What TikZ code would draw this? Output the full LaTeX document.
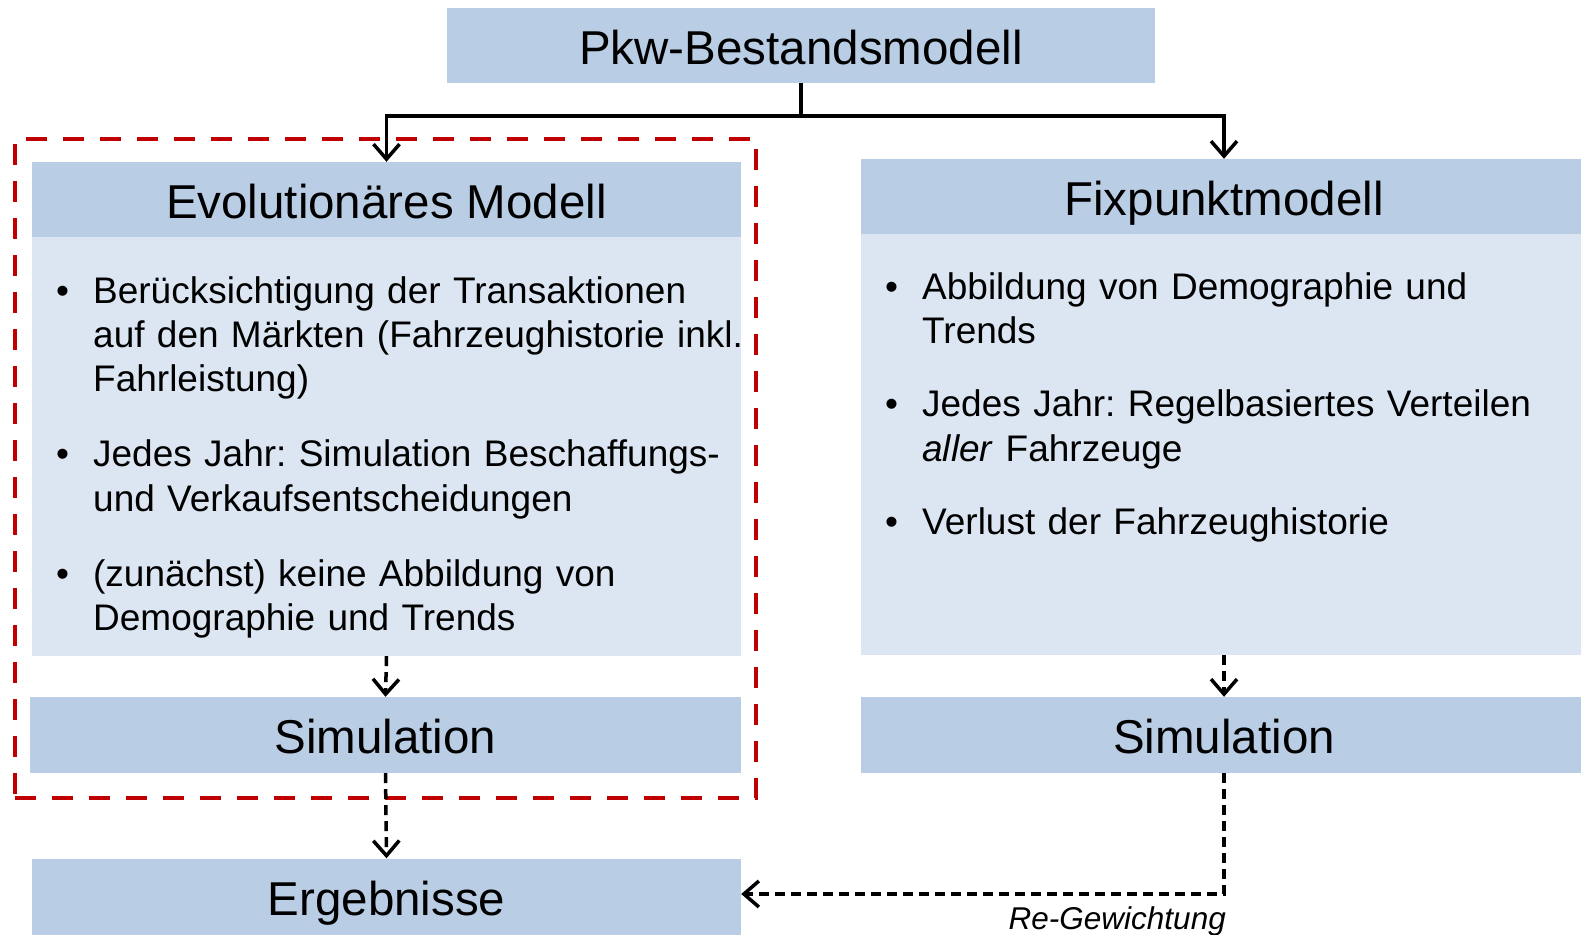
\documentclass[tikz,border=0pt]{standalone}
\usepackage{fontspec}
\setmainfont{Liberation Sans}
\usetikzlibrary{arrows.meta}
\definecolor{hdr}{RGB}{185,205,229}
\definecolor{bdy}{RGB}{220,230,242}
\definecolor{dred}{RGB}{192,0,0}
\newcommand\bulitem[1]{\par\noindent\llap{\makebox[40pt][l]{\hspace{3pt}•}}#1}
\frenchspacing
\begin{document}
\begin{tikzpicture}[x=1pt,y=-1pt,
  hbox/.style={fill=hdr, draw=none, inner sep=0pt, text height=37pt, text depth=0pt, font=\fontsize{47.5}{57}\selectfont},
  bbox/.style={fill=bdy, draw=none, inner sep=0pt},
  btext/.style={anchor=base west, inner sep=0pt, text width=720pt, align=left, font=\fontsize{37}{44.4}\selectfont\frenchspacing},
  conn/.style={line width=3.5pt, -{Straight Barb[length=15pt,width=26pt]}},
  plain/.style={line width=3.5pt},
  dconn/.style={conn, dash pattern=on 10pt off 6pt},
  focusbox/.style={draw=dred, line width=4pt, dash pattern=on 21pt off 16pt, inner sep=0pt}]
\useasboundingbox (0,0) rectangle (1581,934);
% red focus frame
\node[focusbox, minimum width=741pt, minimum height=659pt] (focus) at (385.5,468.5) {};
% title
\node[hbox, minimum width=708pt, minimum height=75pt] (title) at (801,45.5) {Pkw-Bestandsmodell};
% left column
\node[hbox, minimum width=709pt, minimum height=75pt] (evolhead) at (386.5,199.5) {Evolution\"ares Modell};
\node[bbox, minimum width=709pt, minimum height=419pt] (evolbody) at (386.5,446.5) {};
\node[btext] (evoltext) at (93,258.6) {%
\bulitem{Ber\"ucksichtigung der Transaktionen\\auf den M\"arkten (Fahrzeughistorie inkl.\\Fahrleistung)}
\par\vspace{30.5pt}
\bulitem{Jedes Jahr: Simulation Beschaffungs-\\und Verkaufsentscheidungen}
\par\vspace{30.5pt}
\bulitem{(zun\"achst) keine Abbildung von\\Demographie und Trends}};
\node[hbox, minimum width=711pt, minimum height=76pt] (simL) at (385.5,735) {Simulation};
\node[hbox, minimum width=709pt, minimum height=76pt] (erg) at (386.5,896.5) {Ergebnisse};
% right column
\node[hbox, minimum width=726pt, minimum height=75pt] (fixhead) at (1224,196.5) {Fixpunktmodell};
\node[bbox, minimum width=726pt, minimum height=421pt] (fixbody) at (1224,444.5) {};
\node[btext] (fixtext) at (922,254.6) {%
\bulitem{Abbildung von Demographie und\\Trends}
\par\vspace{29pt}
\bulitem{Jedes Jahr: Regelbasiertes Verteilen\\\textit{aller} Fahrzeuge}
\par\vspace{29pt}
\bulitem{Verlust der Fahrzeughistorie}};
\node[hbox, minimum width=726pt, minimum height=76pt] (simR) at (1224,735) {Simulation};
% connectors
\coordinate (split) at (801,116);
\draw[plain] (title.south) -- (split);
\draw[conn] (split) -| (evolhead.north);
\draw[conn] (split) -| (fixhead.north);
\draw[dconn] (evolbody.south) -- (simL.north);
\draw[dconn] (simL.south) -- (erg.north);
\draw[dconn] (fixbody.south) -- (simR.north);
\coordinate (bend) at (1224,894);
\draw[dconn] (simR.south) -- (bend) -- (erg.east |- bend);
\node[anchor=base east, inner sep=0pt, font=\fontsize{31.5}{38}\selectfont\itshape] (rw) at (1226,929) {Re-Gewichtung};
\end{tikzpicture}
\end{document}
